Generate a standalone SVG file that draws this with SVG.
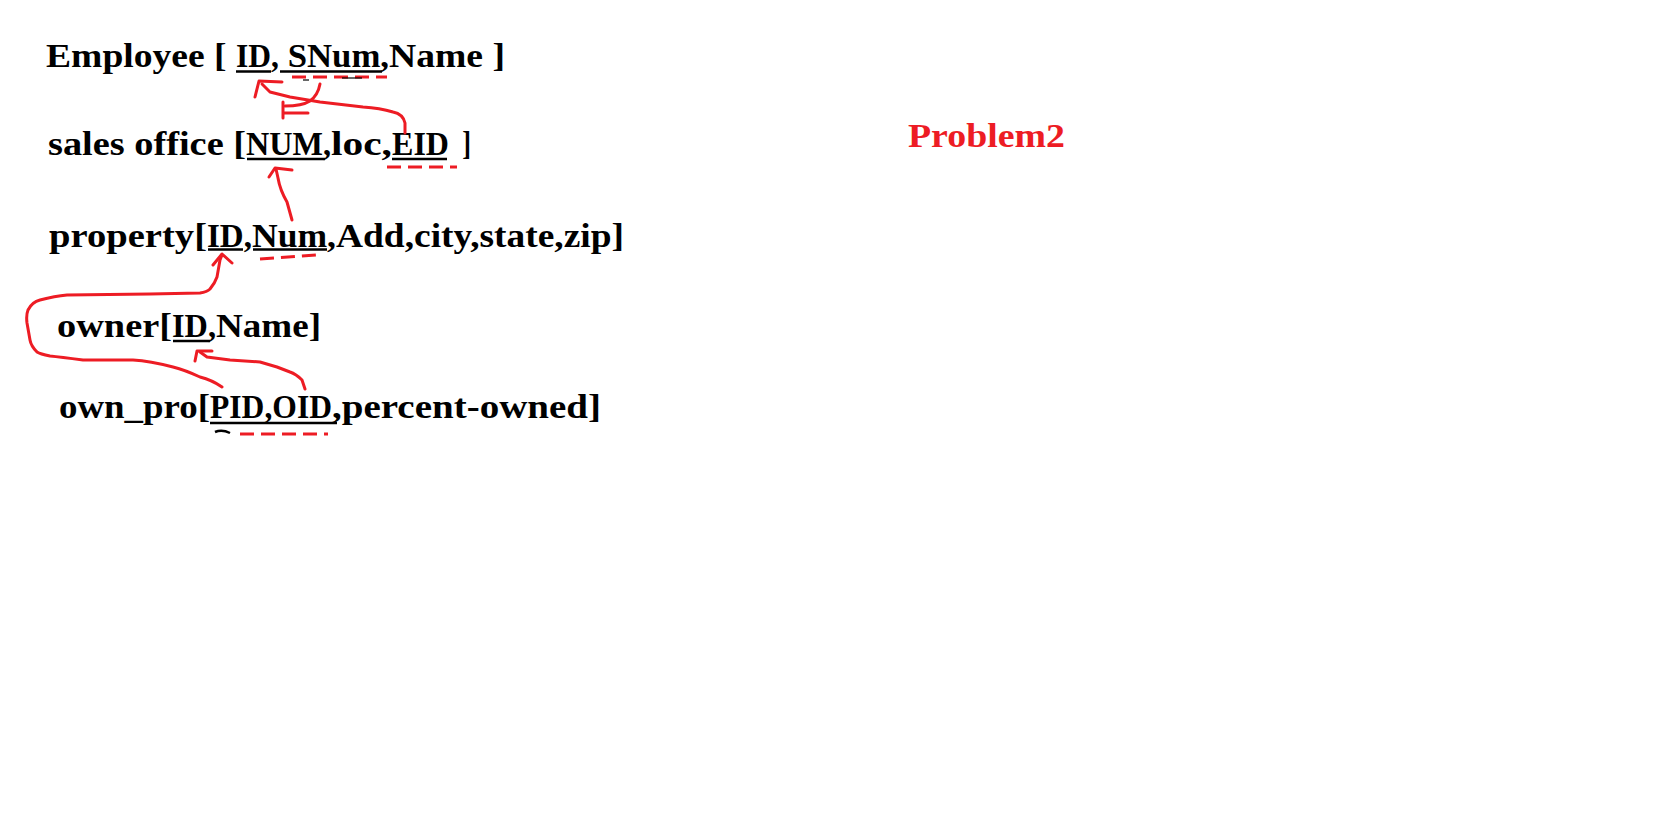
<svg xmlns="http://www.w3.org/2000/svg" width="1656" height="836" viewBox="0 0 1656 836">
<style>
.t{font-family:"Liberation Serif","Times New Roman",serif;font-weight:bold;font-size:33px;fill:#000;white-space:pre}
.p{font-family:"Liberation Serif","Times New Roman",serif;font-weight:bold;font-size:34px;fill:#ED1C24}
.ul{stroke:#000;stroke-width:2.5;fill:none}
.thin{stroke:#000;stroke-width:1.2;fill:none}
.dash{stroke:#ED1C24;stroke-width:3;fill:none;stroke-dasharray:14 7}
.r{stroke:#ED1C24;stroke-width:3;fill:none;stroke-linecap:round;stroke-linejoin:round}
</style>
<rect width="1656" height="836" fill="#fff"/>
<g id="employee">
<text class="t" y="67"><tspan x="46" textLength="190" lengthAdjust="spacingAndGlyphs">Employee [ </tspan><tspan x="236" textLength="43" lengthAdjust="spacingAndGlyphs">ID,</tspan><tspan x="279" textLength="110" lengthAdjust="spacingAndGlyphs"> SNum,</tspan><tspan x="389" textLength="116" lengthAdjust="spacingAndGlyphs">Name ]</tspan></text>
<line class="ul" x1="236" y1="71.5" x2="271" y2="71.5"/>
<line class="ul" x1="280" y1="71.5" x2="382" y2="71.5"/>
<line class="dash" x1="292" y1="77" x2="387" y2="77"/>
<line class="thin" x1="303" y1="80" x2="309" y2="80"/>
<line class="thin" x1="342" y1="78" x2="362" y2="78"/>
</g>
<g id="sales_office">
<text class="t" y="155"><tspan x="48" textLength="198" lengthAdjust="spacingAndGlyphs">sales office [</tspan><tspan x="246" textLength="85" lengthAdjust="spacingAndGlyphs">NUM,</tspan><tspan x="331" textLength="61" lengthAdjust="spacingAndGlyphs">loc,</tspan><tspan x="392" textLength="57" lengthAdjust="spacingAndGlyphs">EID</tspan><tspan x="449" textLength="22" lengthAdjust="spacingAndGlyphs">  ]</tspan></text>
<line class="ul" x1="247" y1="159" x2="325" y2="159"/>
<line class="ul" x1="392" y1="159" x2="447" y2="159"/>
<line class="dash" x1="387" y1="167" x2="457" y2="167"/>
</g>
<g id="property">
<text class="t" y="247"><tspan x="49" textLength="158" lengthAdjust="spacingAndGlyphs">property[</tspan><tspan x="207" textLength="45" lengthAdjust="spacingAndGlyphs">ID,</tspan><tspan x="252" textLength="84" lengthAdjust="spacingAndGlyphs">Num,</tspan><tspan x="336" textLength="288" lengthAdjust="spacingAndGlyphs">Add,city,state,zip]</tspan></text>
<line class="ul" x1="208" y1="249.5" x2="243" y2="249.5"/>
<line class="ul" x1="253" y1="249.5" x2="327" y2="249.5"/>
<path class="dash" d="M260,259 L317,255" stroke-dasharray="9 5 14 9 20"/>
</g>
<g id="owner">
<text class="t" y="337"><tspan x="57" textLength="115" lengthAdjust="spacingAndGlyphs">owner[</tspan><tspan x="172" textLength="44" lengthAdjust="spacingAndGlyphs">ID,</tspan><tspan x="216" textLength="105" lengthAdjust="spacingAndGlyphs">Name]</tspan></text>
<line class="ul" x1="173" y1="341" x2="210" y2="341"/>
</g>
<g id="own_pro">
<text class="t" y="418"><tspan x="59" textLength="151" lengthAdjust="spacingAndGlyphs">own_pro[</tspan><tspan x="210" textLength="122" lengthAdjust="spacingAndGlyphs">PID,OID</tspan><tspan x="332" textLength="269" lengthAdjust="spacingAndGlyphs">,percent-owned]</tspan></text>
<line class="ul" x1="210" y1="423" x2="337" y2="423"/>
<path class="ul" d="M215,432 Q222,429 230,433"/>
<line class="dash" x1="240" y1="434" x2="328" y2="434"/>
</g>
<g id="problem2">
<text class="p" x="908" y="147" textLength="157" lengthAdjust="spacingAndGlyphs">Problem2</text>
</g>
<g id="connectors">
<path class="r" stroke-width="3.5" d="M405,133 L405,123 Q403,114 393,112 Q380,108 363,107 L320,102 L290,97 L270,92 L262,84"/>
<path class="r" stroke-width="4" d="M255,97 L259,81 L282,82"/>
<path class="r" d="M320,84 Q318,95 310,101 Q302,106 285,106"/>
<path class="r" d="M283,102 L283,118 M284,113 L308,113"/>
<path class="r" d="M292,220 L287,202 Q280,190 278,178 L276,169"/>
<path class="r" d="M269,177 L275,168 L292,170"/>
<path class="r" d="M222,387 Q212,380 200,377 Q185,370 173,367 Q150,361 133,360 L83,360 Q60,357 50,356 Q40,354 37,352 Q31,346 30,340 L27,323 Q26,315 28,310 Q32,302 40,300 Q55,296 67,295 L150,294 L200,293 Q207,292 210,289 Q215,283 217,277 L220,260 L222,255"/>
<path class="r" d="M213,265 L222,254 L232,263"/>
<path class="r" d="M305,389 L302,380 Q296,374 290,372 L277,367 L260,362 L230,360 L207,357 L200,352"/>
<path class="r" d="M195,361 L197,351 L212,351"/>
</g>
</svg>
